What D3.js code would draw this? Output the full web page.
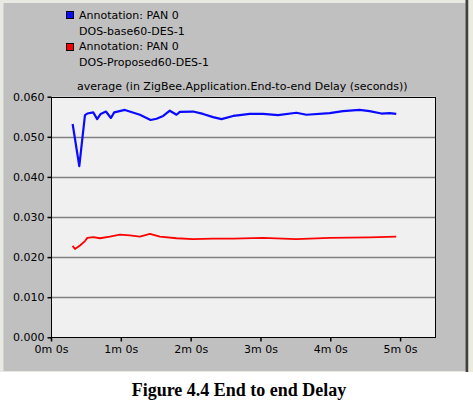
<!DOCTYPE html>
<html>
<head>
<meta charset="utf-8">
<script src="https://cdn.jsdelivr.net/npm/d3@7"></script>
<style>
  body { margin: 0; background: #ffffff; }
  svg { display: block; }
</style>
</head>
<body>
<script>
// data (time in seconds, delay in seconds)
var baseTime  = [18.6, 24.3, 29.2, 31.2, 36.3, 39.7, 42.7, 47.2, 51.5, 54.3, 63.5, 76.4, 85.6, 90.7, 96.4, 102.1, 107.9, 110.7, 122.1, 130.7, 139.3, 146.5, 156.5, 162.2, 170.8, 182.2, 195.1, 210.9, 219.5, 239.5, 250.9, 265.2, 273.8, 283.9, 291.0, 296.7];
var baseDelay = [0.0532, 0.0427, 0.0554, 0.0558, 0.0561, 0.0544, 0.0557, 0.0563, 0.0547, 0.0561, 0.0567, 0.0555, 0.0542, 0.0545, 0.0552, 0.0565, 0.0555, 0.0562, 0.0563, 0.0557, 0.0549, 0.0544, 0.0552, 0.0554, 0.0557, 0.0557, 0.0554, 0.0560, 0.0555, 0.0559, 0.0564, 0.0567, 0.0564, 0.0558, 0.0559, 0.0557];

var propTime  = [18.6, 20.6, 24.9, 29.2, 31.2, 36.3, 42.1, 50.6, 59.2, 67.8, 76.4, 85.0, 93.6, 107.9, 122.1, 139.3, 156.5, 182.0, 210.9, 239.5, 273.8, 296.7];
var propDelay = [0.0228, 0.0220, 0.0229, 0.0240, 0.0248, 0.0250, 0.0247, 0.0251, 0.0256, 0.0254, 0.0251, 0.0258, 0.0251, 0.0247, 0.0245, 0.0246, 0.0246, 0.0248, 0.0245, 0.0248, 0.0249, 0.0251];

var yTicks = [0, 0.01, 0.02, 0.03, 0.04, 0.05, 0.06];
var xTicks = [0, 60, 120, 180, 240, 300];
var xTickLabels = ["0m 0s", "1m 0s", "2m 0s", "3m 0s", "4m 0s", "5m 0s"];

var legendNames = ["Annotation: PAN 0", "DOS-base60-DES-1", "Annotation: PAN 0", "DOS-Proposed60-DES-1"];
var seriesColors = ["#0a0aff", "#ff0000"];
var chartTitle = "average (in ZigBee.Application.End-to-end Delay (seconds))";
var caption = "Figure 4.4 End to end Delay";

var W = 473, H = 400;
var plot = { left: 51, right: 435, top: 96.7, bottom: 337.3 };

var svg = d3.select("body").append("svg")
  .attr("width", W)
  .attr("height", H);

// window frame
svg.append("rect").attr("x", 0).attr("y", 0).attr("width", W).attr("height", 372).attr("fill", "#e9e9e4");
svg.append("rect").attr("x", 3.5).attr("y", 3).attr("width", 462).attr("height", 368).attr("fill", "#c0c0c0");
svg.append("rect").attr("x", 465.5).attr("y", 0).attr("width", 3).attr("height", 372).attr("fill", "#404040");
svg.append("rect").attr("x", 468.5).attr("y", 0).attr("width", 4.5).attr("height", 372).attr("fill", "#ecebe0");

var x = d3.scaleLinear().domain([0, 330]).range([plot.left, plot.right]);
var y = d3.scaleLinear().domain([0, 0.06]).range([plot.bottom, plot.top]);

// plot area
svg.append("rect")
  .attr("x", plot.left).attr("y", plot.top)
  .attr("width", plot.right - plot.left).attr("height", plot.bottom - plot.top)
  .attr("fill", "#f0f0f0");

// gridlines
svg.append("g").selectAll("line")
  .data(yTicks.filter(function(d) { return d > 0 && d < 0.06; }))
  .enter().append("line")
  .attr("x1", plot.left).attr("x2", plot.right)
  .attr("y1", function(d) { return Math.round(y(d)) + 0.5; })
  .attr("y2", function(d) { return Math.round(y(d)) + 0.5; })
  .attr("stroke", "#808080")
  .attr("stroke-width", 1.3);

// border
svg.append("rect")
  .attr("x", plot.left + 0.5).attr("y", Math.round(plot.top) + 0.5)
  .attr("width", plot.right - plot.left).attr("height", Math.round(plot.bottom) - Math.round(plot.top))
  .attr("fill", "none")
  .attr("stroke", "#000")
  .attr("stroke-width", 1);

// y axis
var yAxis = d3.axisLeft(y)
  .tickValues(yTicks)
  .tickFormat(d3.format(".3f"))
  .tickSize(4)
  .tickPadding(3);

svg.append("g")
  .attr("class", "axis")
  .attr("transform", "translate(" + (plot.left + 0.5) + ",0)")
  .call(yAxis);

// x axis
var xAxis = d3.axisBottom(x)
  .tickValues(xTicks)
  .tickFormat(function(d, i) { return xTickLabels[i]; })
  .tickSize(4)
  .tickPadding(4);

svg.append("g")
  .attr("class", "axis")
  .attr("transform", "translate(0," + (Math.round(plot.bottom) + 0.5) + ")")
  .call(xAxis);

svg.selectAll(".axis .domain").remove();
svg.selectAll(".axis line").attr("stroke", "#000").attr("stroke-width", 1.5);
svg.selectAll(".axis text")
  .attr("fill", "#000")
  .style("font-family", "'DejaVu Sans', sans-serif")
  .style("font-size", "11px");

// lines
var line = d3.line()
  .x(function(d) { return x(d[0]); })
  .y(function(d) { return y(d[1]); });

svg.append("path")
  .datum(d3.zip(baseTime, baseDelay))
  .attr("d", line)
  .attr("fill", "none")
  .attr("stroke", seriesColors[0])
  .attr("stroke-width", 2.2)
  .attr("stroke-linejoin", "round");

svg.append("path")
  .datum(d3.zip(propTime, propDelay))
  .attr("d", line)
  .attr("fill", "none")
  .attr("stroke", seriesColors[1])
  .attr("stroke-width", 1.8)
  .attr("stroke-linejoin", "round");

// legend
var legend = svg.append("g").attr("transform", "translate(66,0)");
legend.selectAll("rect")
  .data(seriesColors)
  .enter().append("rect")
  .attr("x", 0.5)
  .attr("y", function(d, i) { return 11.5 + i * 32; })
  .attr("width", 7)
  .attr("height", 7)
  .attr("fill", function(d) { return d; })
  .attr("stroke", "#000")
  .attr("stroke-width", 1);

legend.selectAll("text")
  .data(legendNames)
  .enter().append("text")
  .attr("x", 13)
  .attr("y", function(d, i) { return 19 + i * 15.7; })
  .style("font-family", "'DejaVu Sans', sans-serif")
  .style("font-size", "11px")
  .attr("fill", "#000")
  .text(function(d) { return d; });

// title
svg.append("text")
  .attr("x", 77)
  .attr("y", 90)
  .style("font-family", "'DejaVu Sans', sans-serif")
  .style("font-size", "11px")
  .attr("fill", "#000")
  .text(chartTitle);

// caption
svg.append("text")
  .attr("x", 239)
  .attr("y", 395.5)
  .attr("text-anchor", "middle")
  .style("font-family", "'Liberation Serif', 'Times New Roman', serif")
  .style("font-weight", "bold")
  .style("font-size", "18px")
  .attr("fill", "#000")
  .text(caption);
</script>
</body>
</html>
